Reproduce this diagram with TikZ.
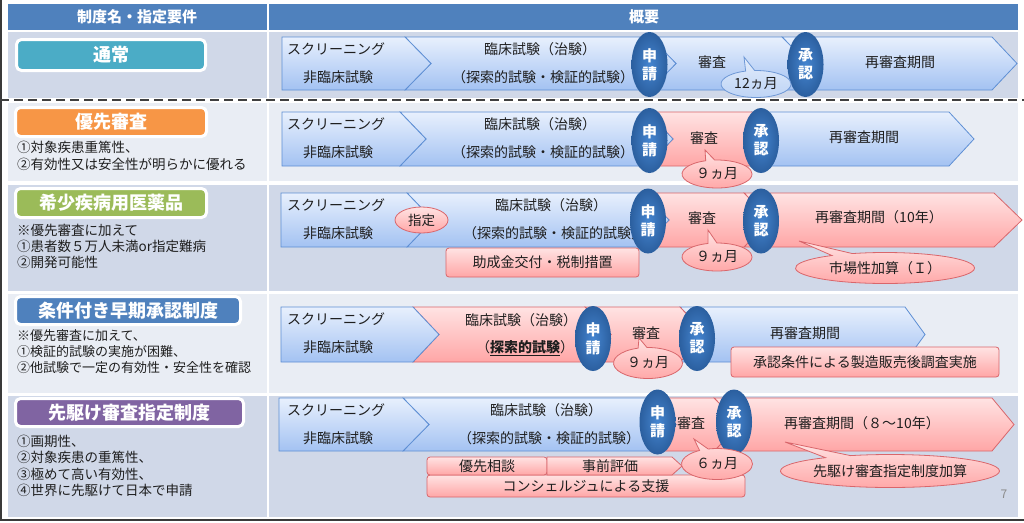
\documentclass[tikz,border=0pt]{standalone}
\usepackage{fontspec}
\setmainfont{Noto Sans CJK JP}
\usetikzlibrary{shapes.geometric,shapes.callouts}

\definecolor{hdrblue}{HTML}{4F81BD}
\definecolor{rowdark}{HTML}{D0D8E8}
\definecolor{rowlight}{HTML}{E9EDF4}
\definecolor{framegray}{HTML}{3A3A3A}
\definecolor{dashgray}{HTML}{404040}
\definecolor{textdark}{HTML}{1E1E1E}
\definecolor{tagteal}{HTML}{4BACC6}
\definecolor{tagorange}{HTML}{F79646}
\definecolor{taggreen}{HTML}{9BBB59}
\definecolor{tagblue}{HTML}{4F81BD}
\definecolor{tagpurple}{HTML}{8064A2}
\definecolor{chevtop}{HTML}{E8F0FD}
\definecolor{chevbot}{HTML}{A3C2F2}
\definecolor{chevline}{HTML}{5E8FD4}
\definecolor{pinktop}{HTML}{FFE3E3}
\definecolor{pinkbot}{HTML}{FFA6A6}
\definecolor{pinkline}{HTML}{D9666B}
\definecolor{ovalin}{HTML}{4585D0}
\definecolor{ovalout}{HTML}{2B5F9F}
\definecolor{calltop}{HTML}{E4EDFB}
\definecolor{callbot}{HTML}{BCD3F5}
\definecolor{callline}{HTML}{6E98D6}
\definecolor{pagegray}{HTML}{8C8C8C}

\newcommand{\fsz}[1]{\fontsize{#1}{#1}\selectfont}
% stage arrow: style, left x, notch depth, corner x, tip x, top y, bottom y
\newcommand{\chev}[7]{%
  \path[#1] (#2,#6) -- (#4,#6) -- (#5,{(#6+#7)/2}) -- (#4,#7) -- (#2,#7) -- ({#2+#3},{(#6+#7)/2}) -- cycle;}

\begin{document}
\begin{tikzpicture}
  [x=1pt,y=-1pt,every node/.style={inner sep=0pt,text=textdark,font=\fsz{14}},
   hdrtext/.style={text=white,font=\fsz{15}\bfseries},
   badge/.style={draw=white,line width=3pt,rounded corners=5pt,text=white,font=\fsz{18}\bfseries},
   notetext/.style={anchor=west,font=\fsz{13.5}},
   stageblue/.style={draw=chevline,line width=0.8pt,top color=chevtop,bottom color=chevbot},
   stagepink/.style={draw=pinkline,line width=0.8pt,top color=pinktop,bottom color=pinkbot},
   appoval/.style={ellipse,minimum width=36pt,minimum height=65pt,inner color=ovalin,outer color=ovalout,
     text=white,align=center,font=\fontsize{15}{18}\selectfont\bfseries},
   callpink/.style={ellipse callout,draw=pinkline,line width=0.8pt,top color=pinktop,bottom color=pinkbot},
   callblue/.style={ellipse callout,draw=callline,line width=0.8pt,top color=calltop,bottom color=callbot},
   subbox/.style={draw=pinkline,line width=0.8pt,rounded corners=3pt,top color=pinktop,bottom color=pinkbot},
   dashline/.style={draw=dashgray,line width=2pt,dash pattern=on 9pt off 5pt}]
  \useasboundingbox (0,0) rectangle (1024,522);
  \draw[framegray,line width=2pt] (1,0) -- (1,520) -- (1024,520);

  % table
  \fill[hdrblue] (8,4) rectangle (267,30);
  \fill[hdrblue] (269,4) rectangle (1018,30);
  \node[hdrtext] (h1) at (137,17) {制度名・指定要件};
  \node[hdrtext] (h2) at (644,17) {概要};
\foreach \ya/\yb/\col in
{32/98/rowdark, 103/181/rowlight, 185/291/rowdark, 294/393/rowlight, 396/517/rowdark}
  {
    \fill[\col] (8,\ya) rectangle (267,\yb);
    \fill[\col] (269,\ya) rectangle (1018,\yb);
  }
  \draw[dashline] (0,100) -- (1024,100);

  % left column
  \node[badge,fill=tagteal,minimum width=189pt,minimum height=31pt] (t1) at (111,55) {通常};
  \node[badge,fill=tagorange,minimum width=191pt,minimum height=29pt] (t2) at (111,122) {優先審査};
  \node[badge,fill=taggreen,minimum width=191pt,minimum height=29pt] (t3) at (111,203) {希少疾病用医薬品};
  \node[badge,fill=tagblue,minimum width=225pt,minimum height=28pt] (t4) at (128,310.5) {条件付き早期承認制度};
  \node[badge,fill=tagpurple,minimum width=228pt,minimum height=28pt] (t5) at (129.5,412.5) {先駆け審査指定制度};
\foreach \t [count=\i] in {①対象疾患重篤性、, ②有効性又は安全性が明らかに優れる}
    \node[notetext] (n2-\i) at (17,{130+17*\i}) {\t};
\foreach \t [count=\i] in {※優先審査に加えて, ①患者数５万人未満or指定難病, ②開発可能性}
    \node[notetext] (n3-\i) at (17,{214+16*\i}) {\t};
\foreach \t [count=\i] in {※優先審査に加えて、, ①検証的試験の実施が困難、, ②他試験で一定の有効性・安全性を確認}
    \node[notetext,font=\fsz{13}] (n4-\i) at (17,{320+16*\i}) {\t};
\foreach \t [count=\i] in {①画期性、, ②対象疾患の重篤性、, ③極めて高い有効性、, ④世界に先駆けて日本で申請}
    \node[notetext] (n5-\i) at (17,{424.5+16.5*\i}) {\t};

  % stage arrows
  \chev{stageblue}{782}{26}{992}{1017}{37}{90}
  \chev{stageblue}{650}{26}{782}{808}{37}{90}
  \chev{stageblue}{405}{26}{650}{676}{37}{90}
  \chev{stageblue}{282}{0}{405}{431}{37}{90}
  \chev{stageblue}{752}{26}{949}{974}{112}{166}
  \chev{stagepink}{647}{26}{752}{778}{112}{166}
  \chev{stageblue}{400}{26}{647}{673}{112}{166}
  \chev{stageblue}{282}{0}{400}{426}{112}{166}
  \chev{stagepink}{744}{26}{994}{1022}{193}{247}
  \chev{stagepink}{643}{26}{744}{770}{193}{247}
  \chev{stageblue}{407}{26}{643}{669}{193}{247}
  \chev{stageblue}{281}{0}{407}{433}{193}{247}
  \chev{stageblue}{680}{26}{905}{925}{307}{362}
  \chev{stagepink}{585}{26}{680}{706}{307}{362}
  \chev{stagepink}{413}{26}{585}{611}{307}{362}
  \chev{stageblue}{281}{0}{413}{439}{307}{362}
  \chev{stagepink}{714}{26}{992}{1014}{398}{451}
  \chev{stagepink}{650}{26}{714}{740}{398}{451}
  \chev{stageblue}{403}{26}{650}{676}{398}{451}
  \chev{stageblue}{279}{0}{403}{429}{398}{451}

\foreach \r/\yt in {1/37, 2/112, 3/193, 4/307, 5/398}
  {
    \node[anchor=west] (scr\r) at (287,\yt+12) {スクリーニング};
    \node (pre\r) at (338,\yt+40) {非臨床試験};
  }
\foreach \r/\yt/\cx in {1/37/540, 2/112/540, 3/193/551, 5/398/546}
  {
    \node (ct\r) at (\cx,\yt+12) {臨床試験（治験）};
    \node (cb\r) at (\cx+3,\yt+40) {（探索的試験・検証的試験）};
  }
  \node (ct4) at (521,320) {臨床試験（治験）};
  \node (cb4) at (525,348) {（\textbf{\underline{探索的試験}}）};

  \node (rv1) at (712,62) {審査};
  \node (rv2) at (704,138) {審査};
  \node (rv3) at (702,218) {審査};
  \node (rv4) at (646,333) {審査};
  \node (rv5) at (691,423) {審査};
  \node (rr1) at (900,62) {再審査期間};
  \node (rr2) at (864,137) {再審査期間};
  \node (rr3) at (879,217) {再審査期間（10年）};
  \node (rr4) at (805,333) {再審査期間};
  \node (rr5) at (862,423) {再審査期間（８～10年）};

  % extra measures
  \node[ellipse,draw=pinkline,line width=0.8pt,top color=pinktop,bottom color=pinkbot,
    minimum width=53pt,minimum height=26pt,font=\fsz{13.5}] (des3) at (421.5,220) {指定};
  \node[subbox,minimum width=193pt,minimum height=29pt] (sub3) at (542.5,262.5) {助成金交付・税制措置};
  \node[subbox,minimum width=268pt,minimum height=30pt] (sub4) at (865,362) {承認条件による製造販売後調査実施};
  \node[subbox,minimum width=318pt,minimum height=22pt] (sub5c) at (586,486) {コンシェルジュによる支援};
  \node[subbox,minimum width=120pt,minimum height=18pt] (sub5a) at (487,466) {優先相談};
  \path[subbox,rounded corners=0pt] (547,457) -- (672,457) -- (682,466) -- (672,475) -- (547,475) -- cycle;
  \node (sub5b) at (610,466) {事前評価};

  % application / approval
\foreach \r/\xa/\xb/\y in {1/649.5/805.5/64.5, 2/649.5/761/140.5, 3/648/761/221, 4/593/697/338.5, 5/657.5/734/422}
  {
    \node[appoval] (app\r) at (\xa,\y) {申\\請};
    \node[appoval] (ok\r) at (\xb,\y) {承\\認};
  }

  % callouts
  \node[callblue,minimum width=70pt,minimum height=27pt,callout absolute pointer={(744,57)}] (m1) at (756,84) {12ヵ月};
  \node[callpink,minimum width=70pt,minimum height=28pt,callout absolute pointer={(705,150)}] (m2) at (717,174) {９ヵ月};
  \node[callpink,minimum width=70pt,minimum height=28pt,callout absolute pointer={(708,230)}] (m3) at (717,257) {９ヵ月};
  \node[callpink,minimum width=179pt,minimum height=31pt,callout absolute pointer={(799,241)}] (mk3) at (885,268) {市場性加算（Ｉ）};
  \node[callpink,minimum width=69pt,minimum height=31pt,callout absolute pointer={(639,338)}] (m4) at (648,363) {９ヵ月};
  \node[callpink,minimum width=71pt,minimum height=31pt,callout absolute pointer={(694,439)}] (m5) at (717,464) {６ヵ月};
  \node[callpink,minimum width=219pt,minimum height=33pt,callout absolute pointer={(785,442)}] (mk5) at (890,471) {先駆け審査指定制度加算};

  \node[text=pagegray,font=\fsz{12}] (pg) at (1004,494) {7};
\end{tikzpicture}
\end{document}
